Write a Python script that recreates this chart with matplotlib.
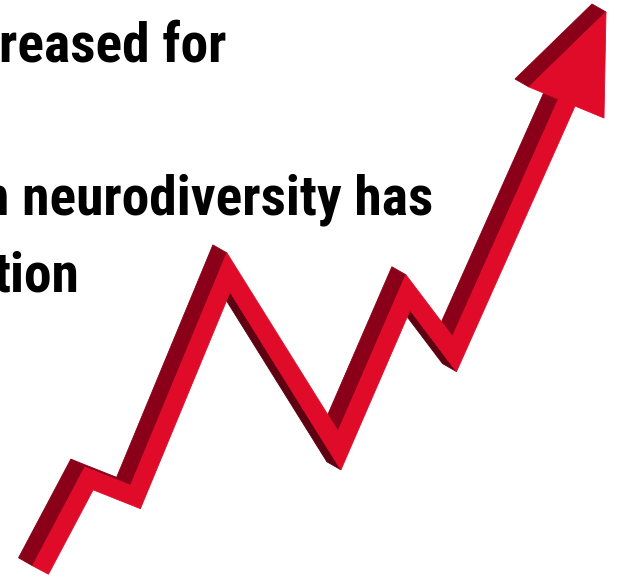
import numpy as np
import matplotlib
matplotlib.use("Agg")
from matplotlib import pyplot as plt
from matplotlib.patches import Polygon
from matplotlib import font_manager

# centre line of the zigzag ribbon (picture units, y grows downwards)
trend_x = [40.5, 89, 135.5, 228.5, 339.5, 408, 454.5, 567]
trend_y = [570, 478.5, 497, 272.5, 450.5, 292.5, 354, 102]
# arrow head triangle: tip, left corner, lower corner
head_x = [606, 529, 604]
head_y = [12, 87, 118]

# text lines, cut off at the left edge of the picture
text_lines = ["reased for", "in neurodiversity has", "tion"]
text_left = [-1, -32, -7]
text_base = [61, 215, 292]

FRONT = "#e00b29"
SIDE = "#8b0019"
SHADE = "#5e0011"
HALF = 9.0                       # half width of ribbon
DEPTH = np.array([-14.0, -8.0])  # extrusion offset


def ribbon_edges(xs, ys, half):
    p = np.column_stack([xs, ys]).astype(float)
    seg = np.diff(p, axis=0)
    seg = seg / np.linalg.norm(seg, axis=1)[:, None]
    nrm = np.column_stack([seg[:, 1], -seg[:, 0]])
    off = np.zeros_like(p)
    off[0] = nrm[0] * half
    off[-1] = nrm[-1] * half
    for i in range(1, len(p) - 1):
        m = nrm[i - 1] + nrm[i]
        m = m / np.linalg.norm(m)
        off[i] = m * half / np.dot(m, nrm[i])
    return p + off, p - off, nrm, seg


def side_faces(ax, e0, e1, n):
    # draw the extruded side of one edge if it faces the viewer
    if np.dot(n, DEPTH) <= 0:
        return
    col = SHADE if n[1] > 0.3 else SIDE
    poly = np.array([e0, e1, e1 + DEPTH, e0 + DEPTH])
    ax.add_patch(Polygon(poly, closed=True, fc=col, ec=col, lw=0.6))


fig = plt.figure(figsize=(6.31, 5.77), dpi=100)
ax = fig.add_axes([0, 0, 1, 1])
ax.set_xlim(0, 631)
ax.set_ylim(577, 0)
ax.axis("off")

names = {f.name for f in font_manager.fontManager.ttflist}
fams = [n for n in ["Roboto Condensed", "Liberation Sans Narrow", "Roboto"] if n in names]
fams.append("DejaVu Sans")

for line, x0, yb in zip(text_lines, text_left, text_base):
    ax.text(x0, yb, line, ha="left", va="baseline", fontsize=40,
            fontweight="bold", family=fams, color="black", clip_on=True)

# ribbon
A, B, nrm, seg = ribbon_edges(trend_x, trend_y, HALF)
for i in range(len(seg)):
    side_faces(ax, A[i], A[i + 1], nrm[i])
    side_faces(ax, B[i], B[i + 1], -nrm[i])
side_faces(ax, A[-1], B[-1], seg[-1])
side_faces(ax, B[0], A[0], -seg[0])
front = np.vstack([A, B[::-1]])
ax.add_patch(Polygon(front, closed=True, fc=FRONT, ec=FRONT, lw=0.6))

# arrow head
tri = np.column_stack([head_x, head_y]).astype(float)
cen = tri.mean(axis=0)
for i in range(3):
    e0, e1 = tri[i], tri[(i + 1) % 3]
    d = (e1 - e0) / np.linalg.norm(e1 - e0)
    n = np.array([d[1], -d[0]])
    if np.dot(n, (e0 + e1) / 2 - cen) < 0:
        n = -n
    side_faces(ax, e0, e1, n)
ax.add_patch(Polygon(tri, closed=True, fc=FRONT, ec=FRONT, lw=0.6))

fig.savefig("out.png", dpi=100, facecolor="white")
